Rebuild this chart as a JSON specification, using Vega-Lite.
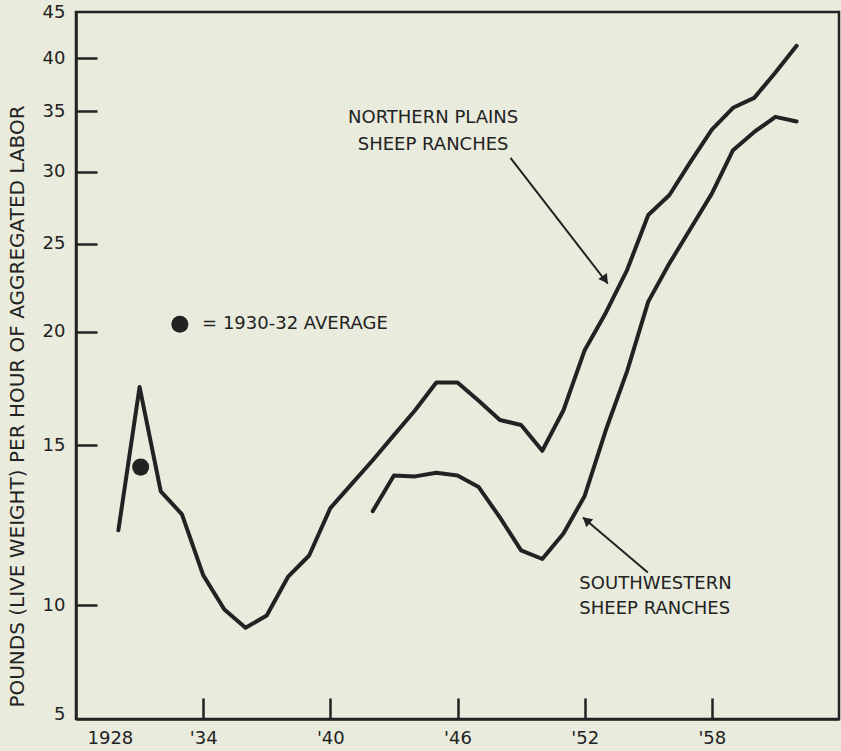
{
  "$schema": "https://vega.github.io/schema/vega-lite/v6.json",
  "width": 763,
  "height": 707,
  "autosize": {"type": "none"},
  "padding": {"left": 76, "top": 12, "right": 2, "bottom": 32},
  "background": "#e9ebdd",
  "config": {
    "view": {"stroke": "#222222", "strokeWidth": 2.5},
    "font": "DejaVu Sans"
  },
  "datasets": {
    "lines": [
      {"series": "Northern Plains", "year": 1930, "value": 12.1},
      {"series": "Northern Plains", "year": 1931, "value": 17.4},
      {"series": "Northern Plains", "year": 1932, "value": 13.35},
      {"series": "Northern Plains", "year": 1933, "value": 12.6},
      {"series": "Northern Plains", "year": 1934, "value": 10.8},
      {"series": "Northern Plains", "year": 1935, "value": 9.9},
      {"series": "Northern Plains", "year": 1936, "value": 9.45},
      {"series": "Northern Plains", "year": 1937, "value": 9.75},
      {"series": "Northern Plains", "year": 1938, "value": 10.75},
      {"series": "Northern Plains", "year": 1939, "value": 11.35},
      {"series": "Northern Plains", "year": 1940, "value": 12.8},
      {"series": "Northern Plains", "year": 1941, "value": 13.6},
      {"series": "Northern Plains", "year": 1942, "value": 14.45},
      {"series": "Northern Plains", "year": 1943, "value": 15.4},
      {"series": "Northern Plains", "year": 1944, "value": 16.4},
      {"series": "Northern Plains", "year": 1945, "value": 17.6},
      {"series": "Northern Plains", "year": 1946, "value": 17.6},
      {"series": "Northern Plains", "year": 1947, "value": 16.8},
      {"series": "Northern Plains", "year": 1948, "value": 16.0},
      {"series": "Northern Plains", "year": 1949, "value": 15.8},
      {"series": "Northern Plains", "year": 1950, "value": 14.8},
      {"series": "Northern Plains", "year": 1951, "value": 16.4},
      {"series": "Northern Plains", "year": 1952, "value": 19.1},
      {"series": "Northern Plains", "year": 1953, "value": 21.0},
      {"series": "Northern Plains", "year": 1954, "value": 23.4},
      {"series": "Northern Plains", "year": 1955, "value": 26.9},
      {"series": "Northern Plains", "year": 1956, "value": 28.3},
      {"series": "Northern Plains", "year": 1957, "value": 30.8},
      {"series": "Northern Plains", "year": 1958, "value": 33.4},
      {"series": "Northern Plains", "year": 1959, "value": 35.3},
      {"series": "Northern Plains", "year": 1960, "value": 36.2},
      {"series": "Northern Plains", "year": 1961, "value": 38.6},
      {"series": "Northern Plains", "year": 1962, "value": 41.3},
      {"series": "Southwestern", "year": 1942, "value": 12.7},
      {"series": "Southwestern", "year": 1943, "value": 13.9},
      {"series": "Southwestern", "year": 1944, "value": 13.87},
      {"series": "Southwestern", "year": 1945, "value": 14.0},
      {"series": "Southwestern", "year": 1946, "value": 13.9},
      {"series": "Southwestern", "year": 1947, "value": 13.5},
      {"series": "Southwestern", "year": 1948, "value": 12.5},
      {"series": "Southwestern", "year": 1949, "value": 11.5},
      {"series": "Southwestern", "year": 1950, "value": 11.25},
      {"series": "Southwestern", "year": 1951, "value": 12.0},
      {"series": "Southwestern", "year": 1952, "value": 13.2},
      {"series": "Southwestern", "year": 1953, "value": 15.6},
      {"series": "Southwestern", "year": 1954, "value": 18.1},
      {"series": "Southwestern", "year": 1955, "value": 21.6},
      {"series": "Southwestern", "year": 1956, "value": 23.8},
      {"series": "Southwestern", "year": 1957, "value": 26.0},
      {"series": "Southwestern", "year": 1958, "value": 28.4},
      {"series": "Southwestern", "year": 1959, "value": 31.7},
      {"series": "Southwestern", "year": 1960, "value": 33.2},
      {"series": "Southwestern", "year": 1961, "value": 34.5},
      {"series": "Southwestern", "year": 1962, "value": 34.1}
    ],
    "average": [
      {"label": "1930-32 average", "year": 1931.05, "value": 14.2},
      {"label": "legend", "year": 1932.9, "value": 20.4}
    ],
    "notesLeft": [
      {"text": "= 1930-32 AVERAGE", "year": 1933.95, "value": 20.4},
      {"text": "SOUTHWESTERN", "year": 1951.75, "value": 10.57},
      {"text": "SHEEP RANCHES", "year": 1951.75, "value": 9.9}
    ],
    "notesCenter": [
      {"text": "NORTHERN PLAINS", "year": 1944.85, "value": 34.4},
      {"text": "SHEEP RANCHES", "year": 1944.85, "value": 32.1}
    ],
    "arrows": [
      {"name": "np", "year": 1948.5, "value": 31.1, "year2": 1953.09, "value2": 22.6, "hx": 1952.93, "hy": 22.9},
      {"name": "sw", "year": 1954.98, "value": 10.87, "year2": 1951.92, "value2": 12.5, "hx": 1952.13, "hy": 12.38}
    ]
  },
  "layer": [
    {
      "data": {"name": "lines"},
      "mark": {"type": "line", "color": "#222222", "strokeWidth": 4, "strokeCap": "round", "strokeJoin": "round"},
      "encoding": {
        "x": {
          "field": "year",
          "type": "quantitative",
          "scale": {"domain": [1928, 1964], "nice": false, "zero": false},
          "axis": {
            "values": [1928, 1934, 1940, 1946, 1952, 1958],
            "labelExpr": "datum.value == 1928 ? '1928' : \"'\" + (datum.value - 1900)",
            "title": null,
            "grid": false,
            "domainColor": "#222222",
            "domainWidth": 2.5,
            "tickColor": "#222222",
            "tickWidth": 2.5,
            "tickSize": -21,
            "tickOpacity": {"condition": {"test": "datum.value == 1928", "value": 0}, "value": 1},
            "labelOffset": {"condition": {"test": "datum.value == 1928", "value": 11}, "value": 0},
            "labelFont": "DejaVu Sans",
            "labelFontSize": 18,
            "labelColor": "#222222",
            "labelPadding": 31
          }
        },
        "y": {
          "field": "value",
          "type": "quantitative",
          "scale": {"type": "log", "domain": [7.5, 45], "nice": false},
          "axis": {
            "values": [7.5, 10, 15, 20, 25, 30, 35, 40, 45],
            "format": "d",
            "labelExpr": "datum.value < 8 ? '5' : datum.label",
            "title": "POUNDS (LIVE WEIGHT) PER HOUR OF AGGREGATED LABOR",
            "titleX": -59,
            "titleY": 394,
            "titleAngle": -90,
            "titleAlign": "center",
            "titleBaseline": "middle",
            "titleFont": "DejaVu Sans",
            "titleFontSize": 20,
            "titleFontWeight": "normal",
            "titleColor": "#222222",
            "grid": false,
            "domainColor": "#222222",
            "domainWidth": 2.5,
            "tickColor": "#222222",
            "tickWidth": 2.5,
            "tickSize": -21,
            "tickOpacity": {"condition": {"test": "datum.value < 8 || datum.value > 44", "value": 0}, "value": 1},
            "labelOffset": {"condition": {"test": "datum.value < 8", "value": -5}, "value": 0},
            "labelFont": "DejaVu Sans",
            "labelFontSize": 18,
            "labelColor": "#222222",
            "labelPadding": 32
          }
        },
        "detail": {"field": "series"}
      }
    },
    {
      "data": {"name": "average"},
      "mark": {"type": "circle", "color": "#222222", "opacity": 1, "size": 290},
      "encoding": {
        "x": {"field": "year", "type": "quantitative"},
        "y": {"field": "value", "type": "quantitative"}
      }
    },
    {
      "data": {"name": "notesLeft"},
      "mark": {"type": "text", "align": "left", "baseline": "middle", "font": "DejaVu Sans", "fontSize": 18, "color": "#222222"},
      "encoding": {
        "x": {"field": "year", "type": "quantitative"},
        "y": {"field": "value", "type": "quantitative"},
        "text": {"field": "text"}
      }
    },
    {
      "data": {"name": "notesCenter"},
      "mark": {"type": "text", "align": "center", "baseline": "middle", "font": "DejaVu Sans", "fontSize": 18, "color": "#222222"},
      "encoding": {
        "x": {"field": "year", "type": "quantitative"},
        "y": {"field": "value", "type": "quantitative"},
        "text": {"field": "text"}
      }
    },
    {
      "data": {"name": "arrows"},
      "mark": {"type": "rule", "color": "#222222", "strokeWidth": 2},
      "encoding": {
        "x": {"field": "year", "type": "quantitative"},
        "y": {"field": "value", "type": "quantitative"},
        "x2": {"field": "year2"},
        "y2": {"field": "value2"}
      }
    },
    {
      "data": {"name": "arrows"},
      "transform": [{"filter": "datum.name == 'np'"}],
      "mark": {"type": "point", "shape": "triangle", "filled": true, "color": "#222222", "opacity": 1, "size": 110, "angle": 145},
      "encoding": {
        "x": {"field": "hx", "type": "quantitative"},
        "y": {"field": "hy", "type": "quantitative"}
      }
    },
    {
      "data": {"name": "arrows"},
      "transform": [{"filter": "datum.name == 'sw'"}],
      "mark": {"type": "point", "shape": "triangle", "filled": true, "color": "#222222", "opacity": 1, "size": 110, "angle": 310},
      "encoding": {
        "x": {"field": "hx", "type": "quantitative"},
        "y": {"field": "hy", "type": "quantitative"}
      }
    }
  ]
}
